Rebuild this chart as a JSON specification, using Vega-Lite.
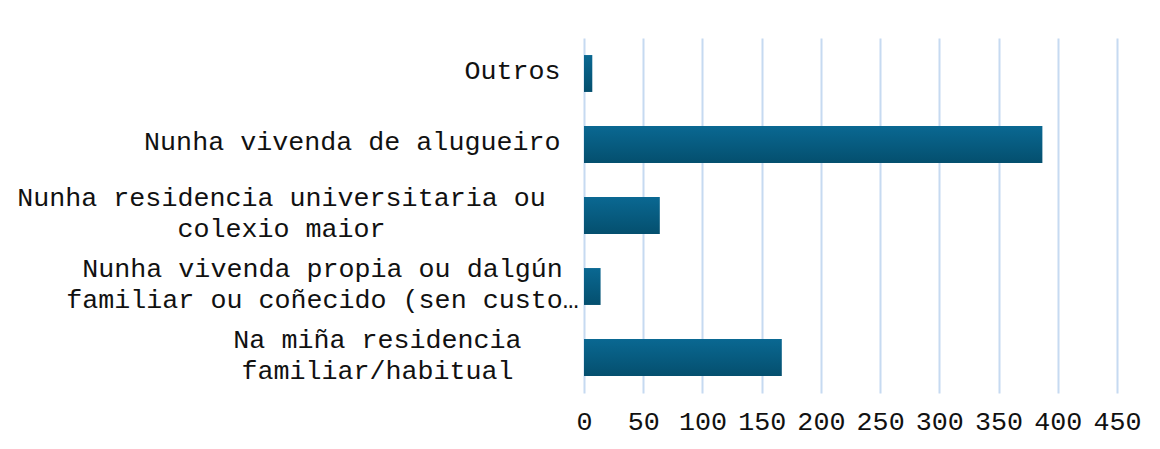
{
  "$schema": "https://vega.github.io/schema/vega-lite/v6.json",
  "autosize": {"type": "none"},
  "padding": {"left": 584, "top": 38, "right": 43, "bottom": 56},
  "width": 533,
  "height": 355,
  "background": "#ffffff",
  "data": {
    "values": [
      {"category": "Outros", "value": 7},
      {"category": "Nunha vivenda de alugueiro", "value": 387},
      {"category": "Nunha residencia universitaria ou |colexio maior", "value": 64},
      {"category": "Nunha vivenda propia ou dalgún\u2007|familiar ou coñecido (sen custo…", "value": 14},
      {"category": "Na miña residencia|familiar/habitual", "value": 167}
    ]
  },
  "config": {
    "view": {"stroke": null},
    "font": "Liberation Mono"
  },
  "mark": {
    "type": "bar",
    "color": {
      "gradient": "linear",
      "x1": 0, "y1": 0, "x2": 0, "y2": 1,
      "stops": [
        {"offset": 0, "color": "#0a6892"},
        {"offset": 1, "color": "#044f6e"}
      ]
    }
  },
  "encoding": {
    "y": {
      "field": "category",
      "type": "nominal",
      "sort": null,
      "scale": {"paddingInner": 0.48, "paddingOuter": 0.24},
      "axis": {
        "title": null,
        "domain": false,
        "ticks": false,
        "tickSize": 0,
        "grid": false,
        "labelExpr": "split(datum.label, '|')",
        "labelFont": "Liberation Mono",
        "labelFontSize": 26.7,
        "labelColor": "#111111",
        "labelLineHeight": 31,
        "labelLimit": 0,
        "labelAlign": {"expr": "indexof(datum.value, '|') >= 0 ? 'center' : 'right'"},
        "labelOffset": {"expr": "indexof(datum.value, '|') >= 0 ? -18 : -3"},
        "labelPadding": {"expr": "indexof(datum.value, 'universitaria') >= 0 ? 303 : indexof(datum.value, 'propia') >= 0 ? 262 : indexof(datum.value, 'miña') >= 0 ? 207 : 24"}
      }
    },
    "x": {
      "field": "value",
      "type": "quantitative",
      "scale": {"domain": [0, 450], "nice": false},
      "axis": {
        "title": null,
        "values": [0, 50, 100, 150, 200, 250, 300, 350, 400, 450],
        "domain": false,
        "ticks": false,
        "tickSize": 0,
        "grid": true,
        "gridColor": "#c6daf1",
        "gridWidth": 2,
        "labelFlush": false,
        "labelFont": "Liberation Mono",
        "labelFontSize": 26.7,
        "labelColor": "#111111",
        "labelPadding": 15
      }
    }
  }
}
